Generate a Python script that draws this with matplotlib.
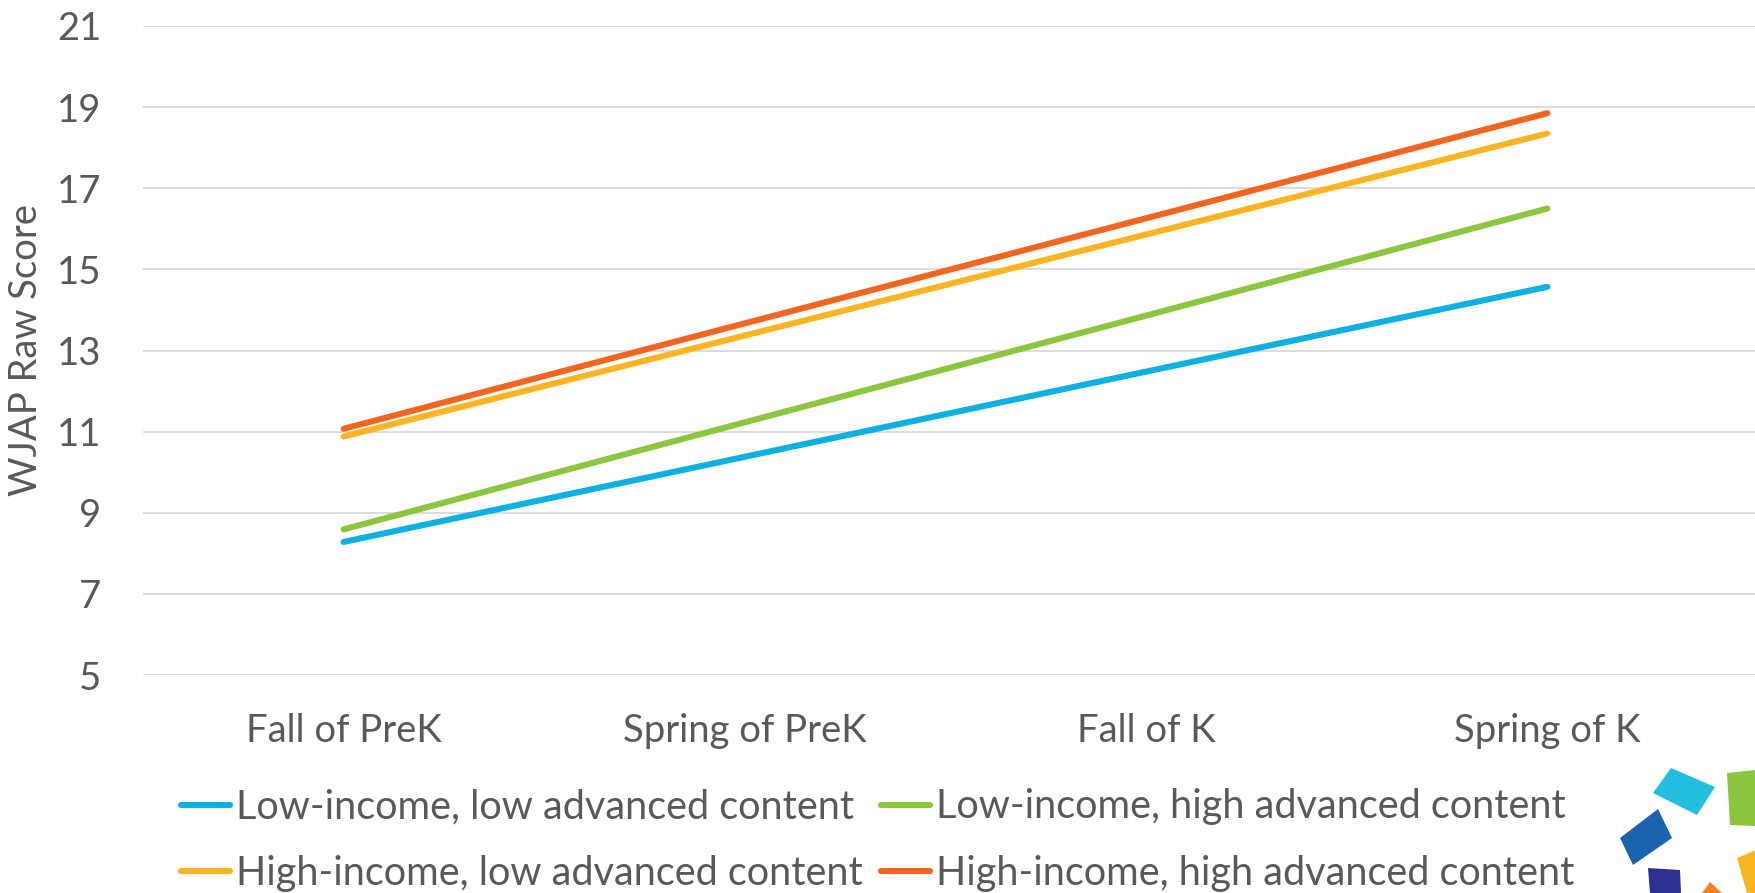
import matplotlib.pyplot as plt
from matplotlib.patches import Polygon

# data
categories = ['Fall of PreK', 'Spring of PreK', 'Fall of K', 'Spring of K']
low_low = [8.28, 10.38, 12.48, 14.57]
low_high = [8.59, 11.23, 13.86, 16.5]
high_low = [10.88, 13.37, 15.86, 18.35]
high_high = [11.07, 13.67, 16.26, 18.85]
y_ticks = [5, 7, 9, 11, 13, 15, 17, 19, 21]

series = [
    ('Low-income, low advanced content', low_low, '#0DB0E0'),
    ('High-income, low advanced content', high_low, '#FBB522'),
    ('Low-income, high advanced content', low_high, '#8CC63F'),
    ('High-income, high advanced content', high_high, '#F4661F'),
]

plt.rcParams['font.family'] = ['Lato', 'DejaVu Sans']
text_color = '#595959'
fs = 27.5
leg_fs = 28.5

fig = plt.figure(figsize=(17.56, 8.93), dpi=100)
W, H = 1756, 893
ax = fig.add_axes([143 / W, 1 - 675 / H, (W - 143) / W, (675 - 26) / H])

x = list(range(len(categories)))
# draw in z order so orange is on top
for label, vals, color in [series[0], series[2], series[1], series[3]]:
    ax.plot(x, vals, color=color, lw=4.4, solid_capstyle='round', label=label, zorder=3)

ax.set_xlim(-0.5, 3.52)
ax.set_ylim(5, 21)
ax.set_yticks(y_ticks)
ax.set_xticks(x)
ax.set_xticklabels(categories)
ax.grid(axis='y', color='#D9D9D9', lw=1.3)
ax.set_axisbelow(True)
for s in ax.spines.values():
    s.set_visible(False)
ax.tick_params(axis='both', length=0, labelsize=fs, labelcolor=text_color)
ax.tick_params(axis='y', pad=30)
ax.tick_params(axis='x', pad=27.5)
ax.set_ylabel('WJAP Raw Score', fontsize=fs, color=text_color)
ax.yaxis.set_label_coords(-(143 - 44) / (W - 143), 0.5)

handles, labels = ax.get_legend_handles_labels()
order = [labels.index(s[0]) for s in series]
leg = fig.legend([handles[i] for i in order], [labels[i] for i in order],
                 ncol=2, loc='center left', bbox_to_anchor=(181 / W, 1 - 840 / H),
                 frameon=False, fontsize=leg_fs, handlelength=1.25, handletextpad=0.15,
                 columnspacing=0.45, labelspacing=0.74, borderaxespad=0, borderpad=0)
for t in leg.get_texts():
    t.set_color(text_color)

# logo fragments in the bottom right corner
logo = [
    ('#22BFDF', [(1671, 768), (1715, 787), (1697, 815), (1653, 793)]),
    ('#8CC63F', [(1727, 773), (1756, 770), (1756, 826), (1730, 825)]),
    ('#1B63AE', [(1658, 809), (1672, 838), (1633, 865), (1620, 838)]),
    ('#2E3191', [(1648, 868), (1680, 870), (1681, 893), (1650, 893)]),
    ('#F58220', [(1710, 882), (1722, 893), (1702, 893)]),
    ('#FBB522', [(1737, 858), (1756, 850), (1756, 893), (1747, 893)]),
]
for color, pts in logo:
    fig.patches.append(Polygon([(px / W, 1 - py / H) for px, py in pts], closed=True,
                               transform=fig.transFigure, facecolor=color, edgecolor='none'))

fig.savefig('out.png', dpi=100)
